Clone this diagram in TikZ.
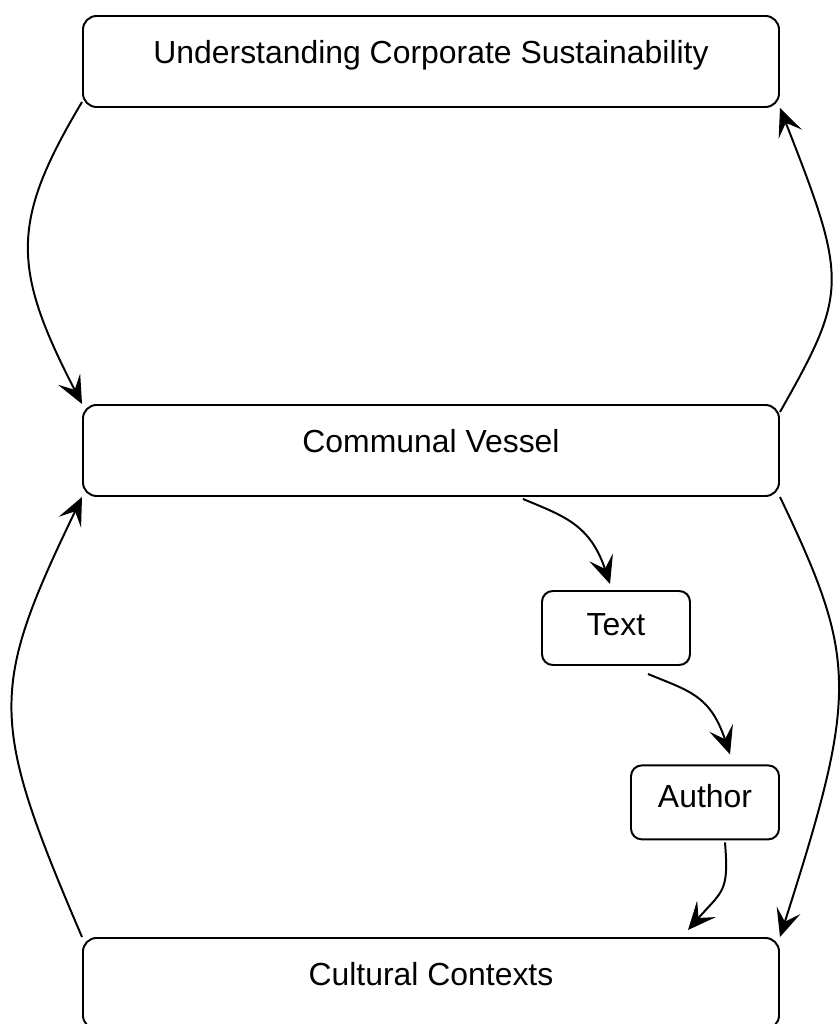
\documentclass[tikz,border=0pt]{standalone}
\usepackage{fontspec}
\setmainfont{Liberation Sans}
\usetikzlibrary{arrows.meta}

\begin{document}
\begin{tikzpicture}[line width=1.4pt,
    bigbox/.style={draw, rounded corners=0.34cm, minimum width=17.4cm, minimum height=2.275cm,
        text height=0.72em, text depth=0.4em, font=\fontsize{22.7}{27}\selectfont},
    smallbox/.style={draw, rounded corners=0.27cm, minimum width=3.7cm, minimum height=1.85cm,
        text height=0.72em, text depth=0em, font=\fontsize{22.7}{27}\selectfont},
    arr/.style={-{Stealth[length=0.7cm, width=0.62cm, inset=0.3cm]}}]
\useasboundingbox (0,0) rectangle (20.975,25.6);

\node[bigbox] (ucs) at (10.775,24.0625) {Understanding Corporate Sustainability};
\node[bigbox] (cv) at (10.775,14.3375) {Communal Vessel};
\node[bigbox] (cc) at (10.775,1.0125) {Cultural Contexts};
\node[smallbox, text height=1.05em] (txt) at (15.4,9.9) {Text};
\node[smallbox] (auth) at (17.625,5.54) {Author};

% outer loops
\draw[arr] ([yshift=0.15cm]ucs.south west) .. controls +(-1.775,-2.975) and +(-1.775,3.425) .. (cv.north west);
\draw[arr] ([yshift=-0.2cm]cv.north east) .. controls +(1.7,3.0) and +(1.7,-4.325) .. (ucs.south east);
\draw[arr] (cv.south east) .. controls +(1.95,-4.075) and +(1.95,6.1) .. (cc.north east);
\draw[arr] (cc.north west) .. controls +(-2.325,5.425) and +(-2.325,-4.825) .. (cv.south west);

% inner chain
\draw[arr] ([xshift=2.3cm,yshift=-0.05cm]cv.south) .. controls +(1.0,-0.42) and +(-0.5,1.5) .. ([xshift=-0.15cm,yshift=0.15cm]txt.north);
\draw[arr] ([xshift=0.8cm,yshift=-0.2cm]txt.south) .. controls +(1.0,-0.42) and +(-0.5,1.5) .. ([xshift=0.625cm,yshift=0.25cm]auth.north);
\draw[arr] ([xshift=0.5cm,yshift=-0.05cm]auth.south) .. controls +(0.1,-1.25) and +(0.875,1.0) .. ([xshift=6.425cm,yshift=0.175cm]cc.north);
\end{tikzpicture}
\end{document}
